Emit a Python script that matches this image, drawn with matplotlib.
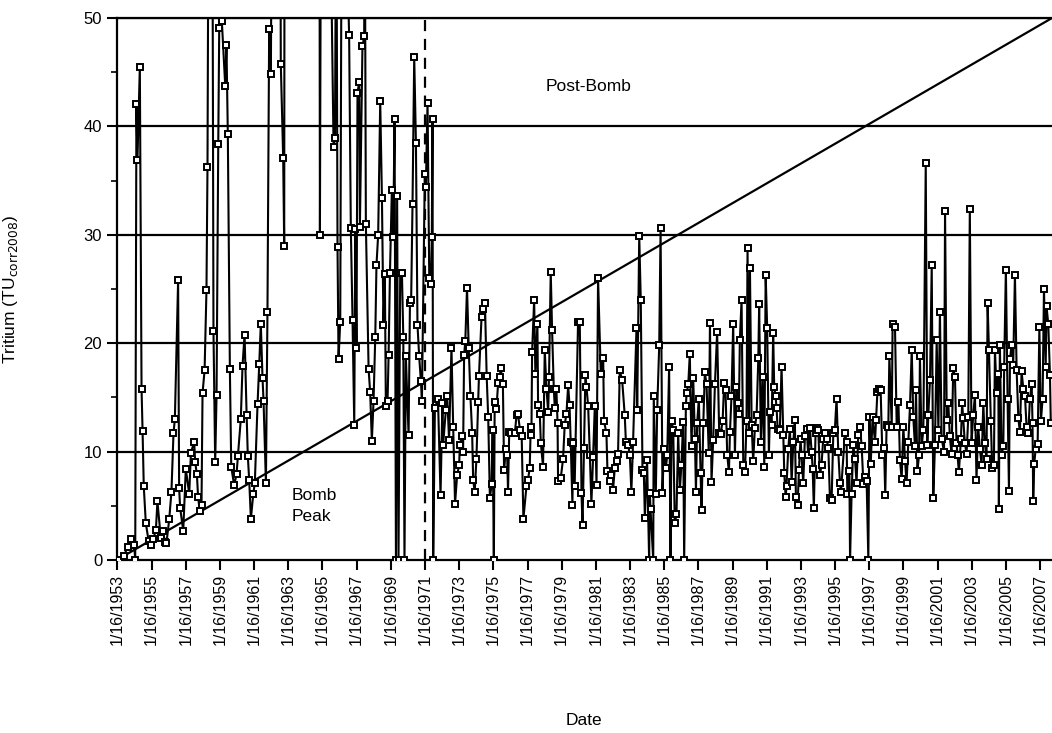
import matplotlib
matplotlib.use("Agg")
import matplotlib.pyplot as plt
from matplotlib.ticker import MultipleLocator

plt.rcParams['font.family'] = ['Liberation Sans', 'DejaVu Sans']

# tritium record (decimal year, TU); values above 50 run off the chart
yr_a = [1953.14, 1953.43, 1953.63, 1953.86, 1954.02, 1954.08, 1954.15, 1954.21, 1954.35, 1954.45,
        1954.51, 1954.58, 1954.70, 1954.86, 1955.01, 1955.13, 1955.29, 1955.38, 1955.58, 1955.68,
        1955.83, 1955.91, 1956.07, 1956.20, 1956.32, 1956.40, 1956.59, 1956.65, 1956.71, 1956.89,
        1957.04, 1957.24, 1957.34, 1957.53, 1957.59, 1957.69, 1957.76, 1957.86, 1957.96, 1958.02,
        1958.14, 1958.25, 1958.31, 1958.41, 1958.51, 1958.66, 1958.76, 1958.84, 1958.94, 1959.00,
        1959.09, 1959.15, 1959.35, 1959.42, 1959.50, 1959.62, 1959.70, 1959.87, 1960.01, 1960.09,
        1960.26, 1960.36, 1960.48, 1960.60, 1960.67, 1960.75, 1960.85, 1960.99, 1961.08, 1961.24,
        1961.34, 1961.43, 1961.53, 1961.59, 1961.73, 1961.82, 1961.92, 1962.02]
tu_a = [0, 0.4, 1.2, 1.9, 1.4, 0, 42.1, 36.9, 45.5, 15.8,
        11.9, 6.8, 3.4, 1.8, 1.35, 1.9, 2.8, 5.4, 2.0, 2.7,
        1.7, 1.6, 3.75, 6.3, 11.7, 13.0, 25.8, 6.6, 4.8, 2.7,
        8.4, 6.1, 9.9, 10.9, 9.0, 7.9, 5.8, 4.5, 5.1, 15.4,
        17.5, 24.9, 36.3, 80, 120, 21.1, 9.0, 15.2, 38.4, 49.1,
        70, 49.7, 43.7, 47.5, 39.3, 17.6, 8.6, 6.9, 7.9, 9.6,
        13.0, 17.9, 20.8, 13.4, 9.6, 7.4, 3.8, 6.1, 7.1, 14.4,
        18.1, 21.8, 16.8, 14.7, 7.1, 22.9, 49.0, 44.8]

yr_b = [1962.15, 1962.30, 1962.50, 1962.60, 1962.74, 1962.80, 1962.90, 1963.20, 1963.60, 1964.00,
        1964.40, 1964.80, 1964.89, 1965.00, 1965.30, 1965.50, 1965.69, 1965.77, 1965.85, 1965.92,
        1965.98, 1966.08, 1966.20, 1966.35, 1966.50, 1966.60, 1966.70, 1966.80, 1966.90, 1966.96,
        1967.03, 1967.09, 1967.19, 1967.23, 1967.38, 1967.48, 1967.52, 1967.58, 1967.74, 1967.83,
        1967.93, 1968.03, 1968.13, 1968.20, 1968.30, 1968.42, 1968.52, 1968.61, 1968.69, 1968.75,
        1968.85, 1968.91, 1968.99, 1969.10, 1969.18, 1969.26, 1969.34, 1969.41, 1969.49, 1969.59,
        1969.69, 1969.77, 1969.84, 1969.92, 1970.08, 1970.16, 1970.23, 1970.31, 1970.41, 1970.51,
        1970.60, 1970.70, 1970.80, 1970.86, 1971.03, 1971.09, 1971.19, 1971.29, 1971.38, 1971.44,
        1971.48, 1971.52, 1971.62]
tu_b = [90, 150, 110, 45.8, 37.1, 29.0, 200, 600, 800, 500,
        300, 150, 30.0, 90, 70, 60, 38.1, 38.9, 65, 28.9,
        18.5, 22.0, 80, 60, 55, 48.4, 30.6, 22.1, 12.5, 30.5,
        19.6, 43.1, 44.1, 30.7, 47.4, 48.3, 60, 31.0, 17.6, 15.5,
        11.0, 14.7, 20.6, 27.2, 30.0, 42.3, 33.4, 21.7, 26.4, 14.2,
        14.7, 18.9, 26.5, 34.1, 29.8, 40.7, 0, 33.6, 0, 26.5,
        26.5, 20.6, 0, 18.8, 11.5, 23.7, 24.0, 32.8, 46.4, 38.5,
        21.7, 18.8, 16.5, 14.7, 35.6, 34.4, 42.2, 26.0, 25.5, 29.8,
        40.7, 0, 14.0]

yr_c = [1971.80, 1971.95, 1972.06, 1972.10, 1972.26, 1972.34, 1972.45, 1972.59, 1972.69, 1972.80,
        1972.92, 1973.04, 1973.08, 1973.18, 1973.27, 1973.33, 1973.40, 1973.50, 1973.60, 1973.70,
        1973.80, 1973.86, 1973.95, 1974.05, 1974.15, 1974.20, 1974.35, 1974.45, 1974.55, 1974.65,
        1974.74, 1974.84, 1974.94, 1975.00, 1975.07, 1975.12, 1975.22, 1975.32, 1975.42, 1975.47,
        1975.60, 1975.67, 1975.77, 1975.85, 1975.90, 1975.97, 1976.10, 1976.30, 1976.40, 1976.48,
        1976.60, 1976.70, 1976.80]
tu_c = [14.9, 6.0, 14.5, 10.6, 13.8, 15.1, 11.1, 19.6, 12.3, 5.2,
        7.8, 8.8, 10.6, 11.4, 10.0, 18.9, 20.2, 25.1, 19.6, 15.1,
        11.7, 7.4, 6.3, 9.3, 14.6, 17.0, 22.4, 23.2, 23.7, 17.0,
        13.2, 5.7, 7.0, 12.0, 0, 14.6, 13.9, 16.3, 16.9, 17.7,
        16.2, 8.3, 10.2, 9.7, 6.3, 11.8, 11.7, 11.7, 13.4, 13.5,
        12.0, 11.4, 3.8]

yr_d = [1976.98, 1977.07, 1977.17, 1977.23, 1977.27, 1977.31, 1977.43, 1977.50, 1977.62, 1977.66,
        1977.76, 1977.82, 1977.95, 1978.05, 1978.15, 1978.25, 1978.30, 1978.40, 1978.48, 1978.58,
        1978.64, 1978.73, 1978.80, 1978.83, 1978.99, 1979.12, 1979.22, 1979.32, 1979.42, 1979.50,
        1979.57, 1979.67, 1979.71, 1979.80, 1980.00, 1980.10, 1980.20, 1980.26, 1980.35, 1980.43,
        1980.49, 1980.59, 1980.69, 1980.78, 1980.88, 1980.98, 1981.08, 1981.17, 1981.33, 1981.47,
        1981.52, 1981.66, 1981.72, 1981.86, 1981.95, 1982.05, 1982.15, 1982.25, 1982.34, 1982.44,
        1982.58, 1982.73, 1982.80, 1982.93, 1983.03, 1983.12, 1983.22]
tu_d = [6.8, 7.4, 8.5, 12.3, 11.5, 19.2, 24.0, 17.2, 21.8, 14.3,
        13.5, 10.8, 8.6, 19.4, 15.8, 13.7, 16.9, 26.6, 21.2, 15.8,
        14.0, 15.8, 12.6, 7.3, 7.6, 9.3, 12.5, 13.5, 16.1, 14.3,
        10.9, 5.1, 10.8, 6.8, 22.0, 22.0, 6.2, 3.2, 10.3, 17.1,
        16.0, 14.2, 9.7, 5.2, 9.5, 14.2, 6.9, 26.0, 17.2, 18.6,
        12.8, 11.7, 8.2, 7.3, 7.8, 6.5, 8.5, 9.1, 9.8, 17.5,
        16.6, 13.4, 10.9, 10.6, 9.7, 6.3, 10.9]

yr_e = [1983.42, 1983.46, 1983.58, 1983.67, 1983.77, 1983.85, 1983.91, 1984.04, 1984.16, 1984.20,
        1984.24, 1984.40, 1984.43, 1984.55, 1984.63, 1984.75, 1984.83, 1984.94, 1985.02, 1985.14,
        1985.22, 1985.33, 1985.41, 1985.47, 1985.57, 1985.66, 1985.76, 1985.86, 1985.96, 1986.05,
        1986.15, 1986.21, 1986.31, 1986.35, 1986.45, 1986.54, 1986.64, 1986.74, 1986.84, 1986.90,
        1986.97, 1987.07, 1987.17, 1987.23, 1987.33, 1987.42, 1987.52, 1987.65, 1987.72, 1987.81,
        1987.91, 1988.01, 1988.14, 1988.26, 1988.34, 1988.46, 1988.55, 1988.63, 1988.73, 1988.83,
        1988.89, 1988.98, 1989.08, 1989.18, 1989.27, 1989.37]
tu_e = [21.4, 13.8, 29.9, 24.0, 8.3, 8.0, 3.9, 9.2, 0, 6.2,
        4.7, 0, 15.1, 6.1, 13.8, 19.8, 30.6, 6.2, 10.2, 8.5,
        9.7, 17.8, 0, 12.8, 12.0, 3.4, 4.2, 11.7, 6.5, 8.8,
        12.7, 0, 14.2, 15.4, 16.2, 19.0, 10.5, 16.8, 11.2, 6.3,
        12.6, 14.9, 8.0, 4.6, 12.6, 17.3, 16.2, 9.9, 21.9, 7.2,
        11.1, 16.2, 21.0, 11.7, 11.6, 12.8, 16.3, 15.7, 9.7, 8.1,
        11.8, 15.1, 21.8, 9.7, 16.0, 14.5]

yr_f = [1989.41, 1989.47, 1989.57, 1989.67, 1989.77, 1989.86, 1989.92, 1990.00, 1990.06, 1990.16,
        1990.25, 1990.35, 1990.45, 1990.55, 1990.60, 1990.70, 1990.80, 1990.90, 1990.98, 1991.07,
        1991.17, 1991.23, 1991.33, 1991.42, 1991.48, 1991.56, 1991.62, 1991.68, 1991.81, 1991.91,
        1992.01, 1992.07, 1992.15, 1992.20, 1992.30, 1992.40, 1992.50, 1992.60, 1992.69, 1992.75,
        1992.85, 1992.93, 1993.02, 1993.08, 1993.18, 1993.28, 1993.38, 1993.47, 1993.57, 1993.67,
        1993.73, 1993.80, 1993.90, 1994.00, 1994.06, 1994.16, 1994.25, 1994.35, 1994.45, 1994.55,
        1994.65, 1994.74, 1994.84, 1994.94, 1995.03, 1995.13, 1995.23, 1995.33, 1995.39]
tu_f = [13.5, 20.3, 24.0, 8.8, 8.1, 12.8, 28.8, 11.7, 26.9, 12.5,
        9.1, 12.2, 13.4, 18.6, 23.6, 10.9, 16.9, 8.6, 26.3, 21.4,
        9.7, 13.7, 12.5, 20.9, 16.0, 15.1, 14.0, 12.1, 12.0, 17.8,
        11.5, 8.0, 5.8, 6.8, 10.2, 12.1, 7.2, 10.9, 12.9, 5.8,
        5.1, 8.3, 11.2, 9.7, 7.1, 11.4, 12.1, 9.7, 12.2, 10.0,
        8.4, 4.8, 11.7, 12.2, 12.0, 7.8, 8.8, 11.2, 11.7, 11.2,
        10.3, 5.7, 5.5, 11.7, 12.0, 14.9, 10.0, 7.1, 6.3]

yr_g = [1995.62, 1995.72, 1995.76, 1995.88, 1995.92, 1996.01, 1996.11, 1996.21, 1996.30, 1996.40,
        1996.50, 1996.60, 1996.70, 1996.79, 1996.89, 1996.99, 1997.05, 1997.13, 1997.24, 1997.38,
        1997.44, 1997.52, 1997.63, 1997.71, 1997.81, 1997.91, 1997.98, 1998.06, 1998.16, 1998.22,
        1998.36, 1998.41, 1998.55, 1998.65, 1998.75, 1998.84, 1998.94, 1999.04, 1999.14, 1999.23,
        1999.33, 1999.43, 1999.53, 1999.62, 1999.72, 1999.78, 1999.86, 1999.96, 2000.01, 2000.11,
        2000.21, 2000.35, 2000.44, 2000.50, 2000.60, 2000.70, 2000.79, 2000.89, 2000.99, 2001.09,
        2001.18, 2001.28, 2001.42, 2001.48]
tu_g = [11.7, 10.9, 6.1, 8.2, 0, 6.1, 10.6, 9.3, 7.1, 11.5,
        12.3, 10.5, 7.0, 7.7, 7.3, 0, 13.2, 8.9, 13.2, 10.9,
        12.9, 15.5, 15.8, 15.7, 9.7, 10.3, 6.0, 12.5, 12.3, 18.8,
        12.3, 21.8, 21.5, 12.3, 14.6, 9.2, 7.5, 12.3, 9.1, 7.1,
        10.9, 14.3, 19.4, 13.2, 10.5, 15.7, 8.2, 9.7, 18.8, 10.5,
        12.0, 36.6, 10.6, 13.4, 16.6, 27.2, 5.7, 10.6, 20.3, 12.0,
        22.9, 11.2, 10.0, 32.2]

yr_h = [2001.58, 2001.67, 2001.76, 2001.86, 2001.96, 2002.06, 2002.15, 2002.21, 2002.29, 2002.41,
        2002.48, 2002.54, 2002.64, 2002.74, 2002.84, 2002.93, 2003.03, 2003.13, 2003.23, 2003.32,
        2003.42, 2003.52, 2003.62, 2003.72, 2003.81, 2003.91, 2003.97, 2004.05, 2004.16, 2004.24,
        2004.34, 2004.40, 2004.50, 2004.60, 2004.63, 2004.69, 2004.79, 2004.89, 2004.94, 2005.04,
        2005.14, 2005.22, 2005.28, 2005.37, 2005.47, 2005.57, 2005.67, 2005.77, 2005.86, 2005.96,
        2006.06, 2006.16, 2006.25, 2006.35, 2006.45, 2006.55, 2006.60, 2006.64, 2006.70, 2006.78,
        2006.90, 2007.00, 2007.09, 2007.19, 2007.27, 2007.37, 2007.42, 2007.52, 2007.62, 2007.67]
tu_h = [12.9, 14.5, 11.4, 9.8, 17.7, 16.9, 10.8, 9.7, 8.1, 11.2,
        14.5, 13.1, 10.8, 9.8, 13.2, 32.4, 10.8, 13.4, 15.2, 7.4,
        12.3, 10.2, 8.8, 14.5, 10.8, 9.3, 23.7, 19.4, 12.8, 8.5,
        8.8, 19.4, 15.4, 17.2, 4.7, 19.8, 9.7, 10.5, 17.8, 26.8,
        14.9, 6.4, 18.5, 19.8, 18.0, 26.3, 17.5, 13.1, 11.8, 17.4,
        15.8, 15.1, 12.3, 11.7, 14.9, 16.2, 12.6, 5.4, 8.9, 10.2,
        10.7, 21.5, 12.8, 14.9, 25.0, 17.8, 23.4, 21.8, 17.1, 12.6]

years = yr_a + yr_b + yr_c + yr_d + yr_e + yr_f + yr_g + yr_h
tritium = tu_a + tu_b + tu_c + tu_d + tu_e + tu_f + tu_g + tu_h

x_start, x_end = 1953.0, 2007.74
tick_years = list(range(1953, 2008, 2))
tick_labels = [f"1/16/{y}" for y in tick_years]
bomb_end = 1971.04

fig = plt.figure(figsize=(10.52, 7.33), dpi=100)
ax = fig.add_axes([0.111, 0.236, 0.889, 0.7394])

for yv in [10, 20, 30, 40, 50]:
    ax.axhline(yv, color='black', lw=1.6, zorder=1)

# separation line between bomb peak and post-bomb waters
ax.plot([x_start, x_end], [0, 50], color='black', lw=1.6, zorder=2)
ax.axvline(bomb_end, color='black', lw=1.6, ls=(0, (5, 3.5)), zorder=2)

ax.plot(years, tritium, color='black', lw=1.5, marker='s', ms=5,
        mfc='white', mec='black', mew=1.4, zorder=3, clip_on=True)

ax.text(1980.6, 43.7, "Post-Bomb", fontsize=12.5, ha='center', va='center')
ax.text(1963.25, 5.0, "Bomb\nPeak", fontsize=12.5, ha='left', va='center', linespacing=1.45)

ax.set_xlim(x_start, x_end)
ax.set_ylim(0, 50)
ax.set_xticks([y + 15 / 365 for y in tick_years])
ax.set_xticklabels(tick_labels, rotation=90, fontsize=11.5)
ax.set_yticks([0, 10, 20, 30, 40, 50])
ax.set_yticklabels(['0', '10', '20', '30', '40', '50'], fontsize=12)
ax.yaxis.set_minor_locator(MultipleLocator(5))
ax.tick_params(axis='both', which='major', direction='out', length=7, width=1.5)
ax.tick_params(axis='y', which='minor', direction='out', length=4, width=1.2)
ax.tick_params(axis='x', which='major', pad=3)

for side in ['left', 'top', 'bottom']:
    ax.spines[side].set_linewidth(1.6)
ax.spines['right'].set_visible(False)

ax.set_xlabel("Date", fontsize=12.5)
ax.xaxis.set_label_coords(0.5, -0.283)
ax.set_ylabel(r"Tritium (TU$_{\mathrm{corr2008}}$)", fontsize=12.5)
ax.yaxis.set_label_coords(-0.104, 0.5)

fig.savefig("out.png", dpi=100)
